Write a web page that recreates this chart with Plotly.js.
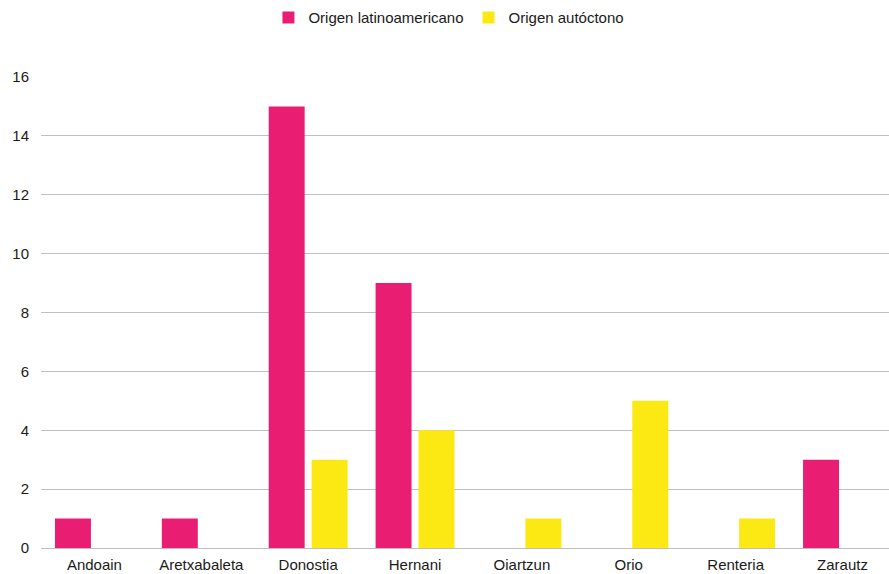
<!DOCTYPE html>
<html>
<head>
<meta charset="utf-8">
<script src="https://cdn.plot.ly/plotly-3.0.1.min.js"></script>
<style>html,body{margin:0;padding:0;background:#fff;overflow:hidden}#chart{width:889px;height:574px}</style>
</head>
<body>
<div id="chart"></div>
<script>
const categories = ["Andoain", "Aretxabaleta", "Donostia", "Hernani", "Oiartzun", "Orio", "Renteria", "Zarautz"];
const latinoValues = [1, 1, 15, 9, 0, 0, 0, 3];
const autoctonoValues = [0, 0, 3, 4, 1, 5, 1, 0];
const seriesNames = ["Origen latinoamericano", "Origen autóctono"];
const yTicks = [0, 2, 4, 6, 8, 10, 12, 14, 16];

const font = {family: "Liberation Sans, Arial, sans-serif", size: 15, color: "#1a1a1a"};

const traces = [
  {type: "bar", name: seriesNames[0], x: categories, y: latinoValues,
   marker: {color: "#E91E72", line: {width: 0}}, hoverinfo: "skip"},
  {type: "bar", name: seriesNames[1], x: categories, y: autoctonoValues,
   marker: {color: "#FCE813", line: {width: 0}}, hoverinfo: "skip"}
];

const layout = {
  width: 889, height: 574,
  margin: {l: 40.5, r: 0, t: 77, b: 26},
  paper_bgcolor: "#fff", plot_bgcolor: "#fff",
  font: font,
  barmode: "group",
  bargap: 0.196,
  bargroupgap: 0.163,
  showlegend: true,
  legend: {orientation: "h", xref: "container", yref: "container",
           x: 0.505, xanchor: "center", y: 0.969, yanchor: "middle",
           font: font, itemwidth: 30, traceorder: "normal"},
  xaxis: {type: "category", range: [-0.5, 7.435], showgrid: false,
          showline: false, zeroline: false, ticks: "", tickfont: font,
          ticklabelstandoff: 6, fixedrange: true},
  yaxis: {range: [0, 16], tickvals: yTicks, ticktext: yTicks.map(String),
          showgrid: true, gridcolor: "#BFBFBF", gridwidth: 1,
          zeroline: true, zerolinecolor: "#BFBFBF", zerolinewidth: 1,
          showline: false, ticks: "", tickfont: font, ticklabelstandoff: 11,
          fixedrange: true}
};

Plotly.newPlot("chart", traces, layout, {displayModeBar: false, staticPlot: true});
</script>
</body>
</html>
